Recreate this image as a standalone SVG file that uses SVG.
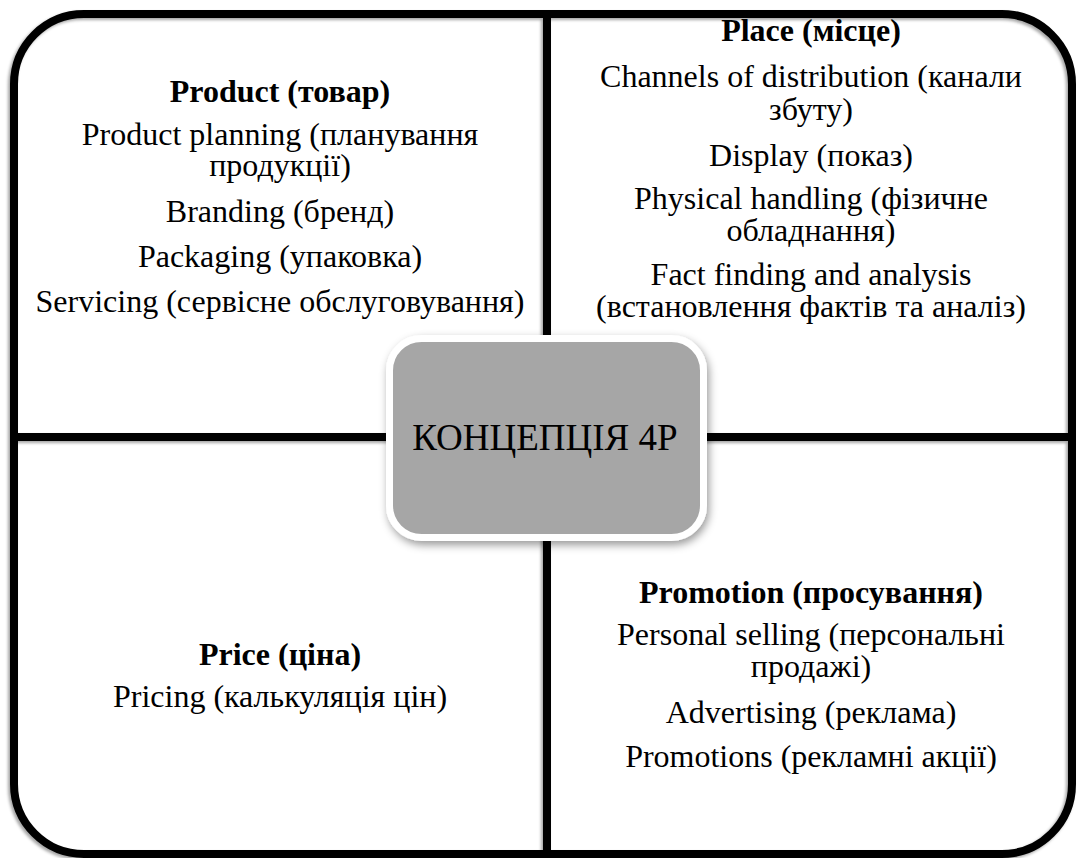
<svg xmlns="http://www.w3.org/2000/svg" width="1079" height="858" viewBox="0 0 1079 858">
  <defs>
    <filter id="lineShadow" x="-5%" y="-5%" width="110%" height="110%">
      <feDropShadow dx="-2" dy="2" stdDeviation="1.5" flood-color="#000" flood-opacity="0.35"/>
    </filter>
    <filter id="boxShadow" x="-10%" y="-10%" width="125%" height="130%">
      <feDropShadow dx="2" dy="4" stdDeviation="4" flood-color="#000" flood-opacity="0.4"/>
    </filter>
  </defs>
  <style>
    .t { font-family: 'Liberation Serif', 'Times New Roman', serif; font-size: 32px; fill: #000; text-anchor: middle; }
    .h { font-weight: bold; }
    .ct { font-family: 'Liberation Serif', 'Times New Roman', serif; font-size: 37px; fill: #000; text-anchor: middle; }
  </style>
  <rect width="1079" height="858" fill="#fff"/>
  <g id="connectors" filter="url(#lineShadow)" fill="none" stroke="#000" stroke-width="8">
    <rect x="14" y="14" width="1058" height="840" rx="70" ry="70"/>
    <line x1="547" y1="14" x2="547" y2="854"/>
    <line x1="14" y1="437" x2="1072" y2="437"/>
  </g>
  <g id="product">
    <text class="t h" x="280" y="102">Product (товар)</text>
    <text class="t" x="280" y="145">Product planning (планування</text>
    <text class="t" x="280" y="176">продукції)</text>
    <text class="t" x="280" y="222">Branding (бренд)</text>
    <text class="t" x="280" y="267">Packaging (упаковка)</text>
    <text class="t" x="280" y="312">Servicing (сервісне обслуговування)</text>
  </g>
  <g id="place">
    <text class="t h" x="811" y="41">Place (місце)</text>
    <text class="t" x="811" y="87">Channels of distribution (канали</text>
    <text class="t" x="811" y="120">збуту)</text>
    <text class="t" x="811" y="166">Display (показ)</text>
    <text class="t" x="811" y="209">Physical handling (фізичне</text>
    <text class="t" x="811" y="241">обладнання)</text>
    <text class="t" x="811" y="285">Fact finding and analysis</text>
    <text class="t" x="811" y="317">(встановлення фактів та аналіз)</text>
  </g>
  <g id="price">
    <text class="t h" x="280" y="665">Price (ціна)</text>
    <text class="t" x="280" y="707">Pricing (калькуляція цін)</text>
  </g>
  <g id="promotion">
    <text class="t h" x="811" y="603">Promotion (просування)</text>
    <text class="t" x="811" y="645">Personal selling (персональні</text>
    <text class="t" x="811" y="677">продажі)</text>
    <text class="t" x="811" y="723">Advertising (реклама)</text>
    <text class="t" x="811" y="767">Promotions (рекламні акції)</text>
  </g>
  <g id="center-node">
    <rect x="389.5" y="338.5" width="314" height="199" rx="32" ry="32" fill="#a6a6a6" stroke="#fff" stroke-width="7" filter="url(#boxShadow)"/>
    <text class="ct" x="545" y="450">КОНЦЕПЦІЯ 4Р</text>
  </g>
</svg>
